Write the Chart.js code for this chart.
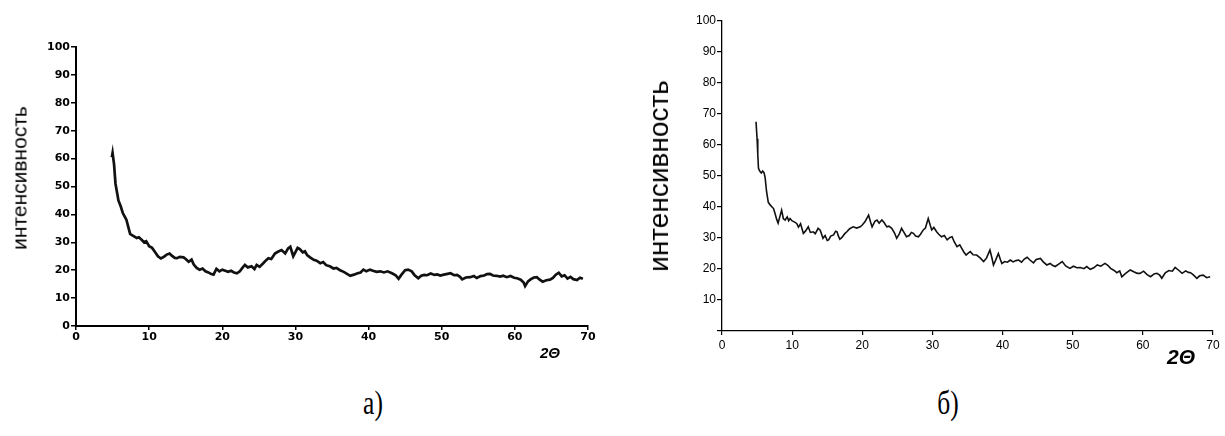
<!DOCTYPE html>
<html><head><meta charset="utf-8">
<script src="https://cdn.jsdelivr.net/npm/chart.js@4/dist/chart.umd.min.js"></script>
<style>
body{margin:0;background:#fff;width:1225px;height:436px;position:relative;overflow:hidden;font-family:"Liberation Sans",Arial,sans-serif}
canvas{position:absolute;top:0}
.lbl{position:absolute;white-space:nowrap;color:#000;transform:translate(-50%,-50%);line-height:1}
.rot{transform:translate(-50%,-50%) rotate(-90deg)}
.cap{transform:translate(-50%,-50%) scale(0.85,1.12)}
</style></head><body>
<canvas id="ca" width="610" height="370" style="left:0"></canvas>
<canvas id="cb" width="610" height="370" style="left:615px"></canvas>
<div class="lbl rot" id="ytA" style="left:19px;top:178px;font-size:21px">интенсивность</div>
<div class="lbl rot" id="ytB" style="left:659px;top:176px;font-size:28px">интенсивность</div>
<div class="lbl" id="xtA" style="left:550px;top:352px;font-size:15px;font-weight:bold;font-style:italic">2Θ</div>
<div class="lbl" id="xtB" style="left:1181px;top:356px;font-size:21px;font-weight:bold;font-style:italic">2Θ</div>
<div class="lbl cap" id="capA" style="left:373px;top:403px;font-family:'Liberation Serif','Times New Roman',serif;font-size:30px">а)</div>
<div class="lbl cap" id="capB" style="left:948px;top:403px;font-family:'Liberation Serif','Times New Roman',serif;font-size:30px">б)</div>
<script>
// ---- data: chart а) ----
const twoThetaA = [4.9,5.0,5.2,5.4,5.6,5.8,6.1,6.4,6.7,6.9,7.2,7.4,7.7,8.0,8.3,8.6,9.0,9.3,9.6,10.0,10.4,10.8,11.2,11.6,12.0,12.4,12.8,13.1,13.5,13.8,14.2,14.7,15.0,15.4,15.8,16.1,16.5,16.9,17.3,17.7,18.1,18.5,18.8,19.2,19.6,20.0,20.4,20.8,21.2,21.6,22.0,22.4,22.8,23.1,23.5,24.0,24.4,24.7,25.1,25.6,26.0,26.3,26.7,27.2,27.6,28.1,28.6,29.0,29.3,29.7,30.0,30.3,30.6,31.0,31.3,31.6,32.0,32.5,32.9,33.4,33.8,34.2,34.7,35.2,35.6,36.1,36.6,37.0,37.5,38.0,38.5,38.9,39.3,39.7,40.2,40.6,41.1,41.6,42.1,42.6,43.2,43.7,44.1,44.5,45.0,45.4,45.9,46.3,46.8,47.2,47.6,48.0,48.5,49.0,49.4,49.8,50.3,50.8,51.2,51.7,52.1,52.5,52.8,53.3,53.9,54.4,54.8,55.3,55.8,56.2,56.6,57.0,57.5,58.0,58.4,58.9,59.4,59.9,60.3,60.8,61.2,61.4,61.8,62.2,62.6,63.0,63.4,63.8,64.3,64.8,65.2,65.6,66.0,66.4,66.8,67.2,67.6,68.0,68.5,68.9,69.3];
const intensityA = [60.5,62,58,51,48,45,43,40.5,39,38,35,33,32.5,32,31.5,31.8,30.8,30,30.4,28.6,28,26.5,25,24.2,24.8,25.6,26,25.2,24.4,24.3,24.8,24.6,24,23,23.8,22,20.8,20.2,20.6,19.6,19.2,18.6,18.4,20.5,19.6,20.2,19.8,19.4,19.8,19.2,18.9,19.6,21,21.9,21,21.4,20.4,21.9,21.2,22.5,23.6,24.3,24,26,26.6,27.2,26,27.8,28.4,25,26.5,28,27.6,26.4,26.8,25.4,24.6,23.7,23.4,22.5,22.9,21.8,21.4,20.6,20.8,20,19.4,18.8,18,18.4,18.9,19.2,20.2,19.6,20.2,19.8,19.4,19.6,19.2,19.6,18.9,18.2,16.9,18.4,20,20.2,19.6,18.2,17.1,18,18.3,18.2,18.8,18.3,18.5,18.1,18.4,18.7,18.9,18.2,18.3,17.6,16.7,17.4,17.5,17.9,17.2,17.9,18.1,18.6,18.7,18.1,18,17.7,18,17.5,17.9,17.3,17.1,16.6,15.6,14.3,16,16.8,17.4,17.5,16.6,15.9,16.4,16.6,17.2,18.4,19.1,17.8,18.2,17,17.6,16.8,16.5,17.3,16.9];

// ---- data: chart б) ----
const twoThetaB = [4.85,5.0,5.1,5.2,5.4,5.6,5.8,6.0,6.15,6.35,6.6,6.9,7.1,7.35,7.55,7.8,8.0,8.2,8.5,8.75,9.0,9.3,9.5,9.7,10.0,10.3,10.65,10.9,11.2,11.6,11.9,12.3,12.6,13.0,13.3,13.7,14.0,14.4,14.7,15.0,15.2,15.5,15.9,16.2,16.4,16.6,16.8,17.1,17.5,17.8,18.2,18.7,19.2,19.7,20.0,20.4,20.9,21.2,21.4,21.8,22.1,22.4,22.8,23.1,23.5,23.8,24.2,24.6,24.9,25.3,25.6,25.9,26.3,26.7,27.0,27.3,27.6,28.0,28.3,28.7,29.0,29.4,29.7,29.9,30.2,30.6,30.9,31.3,31.7,32.1,32.5,32.8,33.1,33.5,33.9,34.2,34.5,34.8,35.1,35.4,35.8,36.3,36.8,37.3,37.7,38.2,38.5,38.7,39.0,39.4,39.7,39.9,40.3,40.7,41.1,41.5,41.9,42.3,42.7,43.1,43.5,43.9,44.4,44.8,45.4,45.8,46.3,46.8,47.1,47.5,48.0,48.5,49.0,49.6,50.1,50.6,51.1,51.6,52.0,52.5,53.0,53.5,54.0,54.6,55.0,55.4,55.8,56.3,56.7,57.0,57.5,58.2,58.7,59.2,59.6,60.1,60.6,61.1,61.6,62.0,62.4,62.7,63.2,63.7,64.2,64.6,65.1,65.6,66.1,66.5,66.8,67.2,67.7,68.1,68.6,69.1,69.6];
const intensityB = [67.5,62,57,52.5,51.5,51,51.6,51,49.5,45,41.5,40.6,40.1,39.5,38,36,34.8,36.5,39,36.2,35.8,36.8,35.6,36.3,35.5,35.2,34.7,33.5,34.6,31.5,32.2,33.6,31.8,32,31.4,33.1,32.5,29.9,30.8,29.2,29.4,30.6,31,32.2,32,30.6,29.6,30.2,31.4,32,33,33.6,33.2,33.6,34.2,35.3,37.4,35,33.6,35.4,35.8,34.8,35.8,35,33.6,33.8,33.1,31.6,29.9,31.4,33.1,32,30.4,30.8,31.8,31.5,30.6,30.4,31.2,32.6,33.2,36.3,34,32.6,33.4,32,31.2,30.4,30.8,29.4,30.2,30.4,28.8,27.2,27.8,26.6,25.4,24.5,25.1,25.6,24.6,24.5,23.6,22.4,23.5,26.1,23.4,21.3,22.8,25,23,21.8,22.4,22.2,22.9,22.3,22.7,22.9,22.2,23.2,23.8,22.9,22,23.1,23.4,22.3,21.3,21.8,21.2,20.8,21.6,22.4,21,20.2,20.9,20.4,20.5,20.1,20.8,19.9,20.4,21.3,20.9,21.8,21.2,20.2,19.7,18.8,19.4,17.5,18.5,19.7,19.1,18.6,18.6,19.3,18.2,17.5,18.4,18.6,18,17,18.8,19.5,19.3,20.5,19.6,18.6,19.4,18.9,18.8,18.1,17,17.8,18,17.2,17.5];

// ---- axis ticks ----
const xMin = 0, xMax = 70, xStep = 10;
const yMin = 0, yMax = 100, yStep = 10;

function pts(xs, ys){ return xs.map((x,i)=>({x:x, y:ys[i]})); }

function makeChart(id, xs, ys, cfg){
  return new Chart(document.getElementById(id), {
    type:'line',
    data:{datasets:[{data:pts(xs,ys), borderColor:'#111', borderWidth:cfg.lw, pointRadius:0, tension:0, fill:false}]},
    options:{
      responsive:false, animation:false, devicePixelRatio:1,
      layout:{padding:cfg.pad},
      plugins:{legend:{display:false}, tooltip:{enabled:false}},
      scales:{
        x:{type:'linear', min:xMin, max:xMax,
           ticks:{stepSize:xStep, color:'#000', font:cfg.font, padding:cfg.xpad, maxRotation:0, autoSkip:false},
           grid:{drawOnChartArea:false, tickLength:4, color:'#000', lineWidth:cfg.tw},
           border:{color:'#000', width:cfg.bw},
           afterFit(s){ s.height = cfg.xh; }},
        y:{type:'linear', min:yMin, max:yMax,
           ticks:{stepSize:yStep, color:'#000', font:cfg.font, padding:cfg.ypad, autoSkip:false,
                  callback:(v)=> (cfg.hideZero && v===0) ? '' : v},
           grid:{drawOnChartArea:false, tickLength:5, color:'#000', lineWidth:cfg.tw},
           border:{color:'#000', width:cfg.bw},
           afterFit(s){ s.width = cfg.yw; }}
      }
    }
  });
}

makeChart('ca', twoThetaA, intensityA, {
  lw:2.7, bw:2, tw:1.5, pad:{top:47, right:22, left:0, bottom:0}, xh:44, yw:76,
  font:{family:'DejaVu Sans', weight:'bold', size:11}, xpad:1, ypad:1, hideZero:false
});
makeChart('cb', twoThetaB, intensityB, {
  lw:1.6, bw:1.3, tw:1.2, pad:{top:21, right:12, left:0, bottom:0}, xh:39, yw:107,
  font:{family:'Liberation Sans', size:12}, xpad:3, ypad:1, hideZero:true
});
</script>
</body></html>
